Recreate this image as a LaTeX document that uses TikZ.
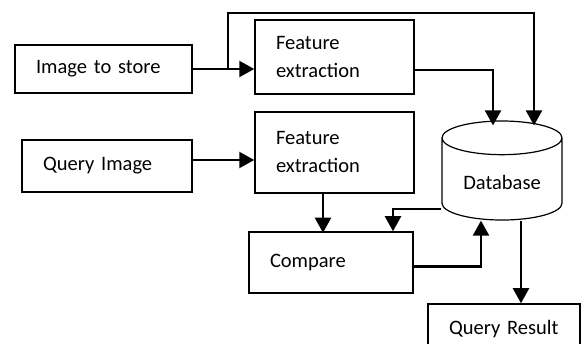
\documentclass[tikz,border=0pt]{standalone}
\usepackage{fontspec}
\setmainfont{Carlito}
\usepackage{tikz}
\usetikzlibrary{shapes,arrows.meta,positioning,calc}

\begin{document}
\begin{tikzpicture}[
    x=1pt, y=-1pt,
    box/.style={rectangle, draw, line width=1.5pt, align=left, inner xsep=21pt, inner ysep=0pt,
        font=\fontsize{20.5}{28}\selectfont},
    flow/.style={-{Triangle[length=15pt,width=16pt]}, line width=2.2pt}]
    \useasboundingbox (0,0) rectangle (582,344);
    % input images
    \node[box, minimum width=177pt, minimum height=48pt, text width=135pt] (store) at (103.5,69) {Image to store};
    \node[box, minimum width=170pt, minimum height=52pt, text width=128pt] (query) at (107,166) {Query Image};
    % feature extraction
    \node[box, minimum width=159pt, minimum height=74pt, text width=117pt] (feat1) at (334.5,57) {Feature\\extraction};
    \node[box, minimum width=159pt, minimum height=81pt, text width=117pt] (feat2) at (334.5,152.5) {Feature\\extraction};
    \node[box, minimum width=164pt, minimum height=61pt, text width=122pt] (compare) at (331,262.5) {Compare};
    \node[box, minimum width=152pt, minimum height=50pt, text width=110pt] (result) at (504,329) {Query Result};
    % database
    \node[cylinder, draw, line width=1.2pt, shape border rotate=90, aspect=0.4,
        minimum width=120pt, minimum height=99pt, font=\fontsize{20.5}{28}\selectfont] (db) at (502,182) {Database};

    \coordinate (split) at ($(store.east)!0.57!(feat1.west |- store.east)$);
    \draw[flow] (store.east) -- (store.east -| feat1.west);
    \draw[flow] ([yshift=6pt]query.east) -- ([yshift=6pt]query.east -| feat2.west);
    \draw[flow] (split) -- ++(0,-56) -| ([xshift=32pt,yshift=-5pt]db.north);
    \draw[flow] ([yshift=-13pt]feat1.east) -| ([xshift=-9pt,yshift=-5pt]db.north);
    \draw[flow] (feat2.south -| compare.north) ++(-8,0) -- ++(0,39);
    \draw[flow] ([yshift=-27pt]db.west) -| ([xshift=62pt]compare.north);
    \draw[flow] ([yshift=-4pt]compare.east) -| ([xshift=-21pt]db.south);
    \draw[flow] ([xshift=19pt]db.south) -- ([xshift=19pt]db.south |- result.north);
\end{tikzpicture}
\end{document}
